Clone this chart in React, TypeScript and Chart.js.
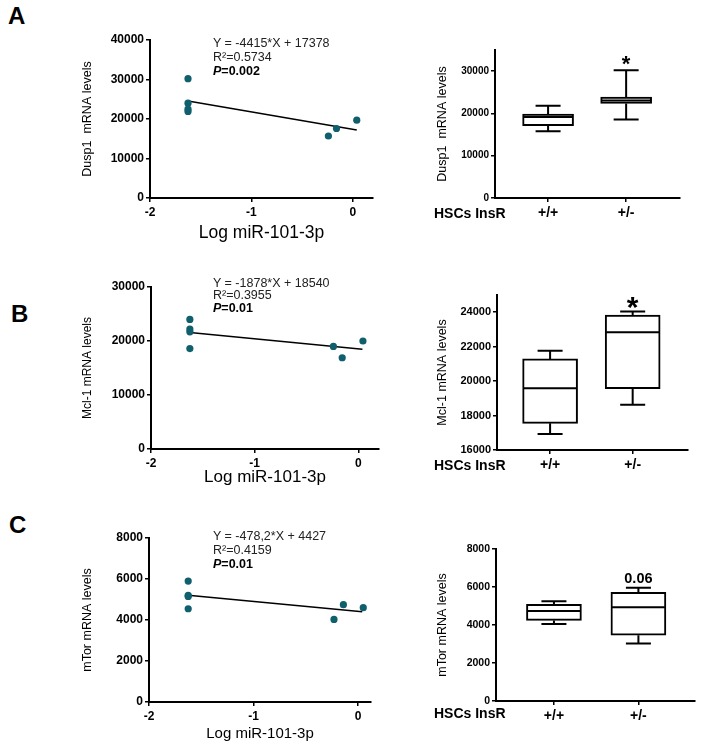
import React, { useEffect, useRef } from "react";
import { Chart, registerables } from "chart.js";
Chart.register(...registerables);

const FONT = "'Liberation Sans', Arial, Helvetica, sans-serif";
Chart.defaults.font.family = FONT;

// ---------------- DATA ----------------
// Scatter: x = Log miR-101-3p
const logMiRTicks = [-2, -1, 0];

const dusp1LogMiR = [-1.625, -1.625, -1.625, -1.625, -0.24, -0.16, 0.04];
const dusp1Levels = [30200, 24000, 22500, 21900, 15700, 17600, 19700];
const dusp1FitX = [-1.625, 0.04];
const dusp1FitY = [24550, 17200];
const dusp1ScatterTicks = [0, 10000, 20000, 30000, 40000];
const dusp1Eq = ["Y = -4415*X + 17378", "R\u00b2=0.5734", "=0.002"];

const mcl1LogMiR = [-1.625, -1.625, -1.625, -1.625, -0.24, -0.155, 0.045];
const mcl1Levels = [24000, 22200, 21700, 18600, 19000, 16900, 20000];
const mcl1FitX = [-1.625, 0.04];
const mcl1FitY = [21590, 18465];
const mcl1ScatterTicks = [0, 10000, 20000, 30000];
const mcl1Eq = ["Y = -1878*X + 18540", "R\u00b2=0.3955", "=0.01"];

const mtorLogMiR = [-1.625, -1.625, -1.625, -1.625, -0.23, -0.14, 0.05];
const mtorLevels = [5900, 5200, 5150, 4550, 4030, 4750, 4600];
const mtorFitX = [-1.625, 0.04];
const mtorFitY = [5204, 4408];
const mtorScatterTicks = [0, 2000, 4000, 6000, 8000];
const mtorEq = ["Y = -478,2*X + 4427", "R\u00b2=0.4159", "=0.01"];

// Box plots: HSCs InsR genotypes
const genotypes = ["+/+", "+/-"];
const dusp1BoxMin = [15800, 18590];
const dusp1BoxQ1 = [17080, 22360];
const dusp1BoxMed = [19140, 23070];
const dusp1BoxQ3 = [19840, 23860];
const dusp1BoxMax = [21800, 30240];
const dusp1BoxTicks = [0, 10000, 20000, 30000];

const mcl1BoxMin = [16930, 18630];
const mcl1BoxQ1 = [17550, 19560];
const mcl1BoxMed = [19580, 22840];
const mcl1BoxQ3 = [21290, 23840];
const mcl1BoxMax = [21760, 24040];
const mcl1BoxTicks = [16000, 18000, 20000, 22000, 24000];

const mtorBoxMin = [4047, 3029];
const mtorBoxQ1 = [4243, 3467];
const mtorBoxMed = [4733, 4929];
const mtorBoxQ3 = [5087, 5720];
const mtorBoxMax = [5245, 5963];
const mtorBoxTicks = [0, 2000, 4000, 6000, 8000];

const TEAL = "#0f5f6c";

// ---------------- CHART BUILDERS ----------------
const gridCfg = { drawOnChartArea: false, drawTicks: true, tickLength: 4, color: "#000", lineWidth: 1.5 };
const borderCfg = { display: true, color: "#000", width: 2 };
const setTicks = (vals: number[]) => (s: any) => { s.ticks = vals.map((v) => ({ value: v })); };

type ScatterPanel = {
  xs: number[]; ys: number[]; fitX: number[]; fitY: number[];
  yMax: number; yTicks: number[]; xMax: number; yTitle: string;
  x0: number; x1: number; y0: number; y1: number;
  yTitleX: number; xTitleY: number; xTitleSize: number; yTitleSize: number;
};

function scatterChart(p: ScatterPanel) {
  const left = 60;
  const ml = p.x0 - left;
  const top = p.y0 - 15;
  const bottom = p.xTitleY + 14;
  const mb = bottom - p.y1;
  const width = ml + (p.x1 - p.x0) + 12;
  const height = bottom - top;
  const yLH = p.yTitleSize * 1.2;
  const xLH = p.xTitleSize * 1.2;
  const config: any = {
    type: "scatter",
    data: {
      datasets: [
        {
          data: p.xs.map((x, i) => ({ x, y: p.ys[i] })),
          pointRadius: 3.6,
          pointBackgroundColor: TEAL,
          pointBorderWidth: 0,
          order: 0,
        },
        {
          data: p.fitX.map((x, i) => ({ x, y: p.fitY[i] })),
          showLine: true,
          borderColor: "#000",
          borderWidth: 1.5,
          pointRadius: 0,
          order: 1,
        },
      ],
    },
    options: {
      animation: false,
      responsive: false,
      devicePixelRatio: 1,
      layout: { padding: { top: 15, right: 12, left: 0, bottom: 0 } },
      plugins: { legend: { display: false }, tooltip: { enabled: false } },
      scales: {
        x: {
          type: "linear",
          min: -2,
          max: p.xMax,
          afterBuildTicks: setTicks(logMiRTicks),
          afterFit: (s: any) => { s.height = mb; },
          ticks: { font: { size: 12, weight: "bold" }, color: "#000", padding: 3, maxRotation: 0, autoSkip: false, callback: (v: any) => String(v) },
          grid: gridCfg,
          border: borderCfg,
          title: { display: true, text: "Log miR-101-3p", color: "#000", font: { size: p.xTitleSize }, padding: { top: 0, bottom: bottom - p.xTitleY - xLH / 2 } },
        },
        y: {
          type: "linear",
          min: 0,
          max: p.yMax,
          afterBuildTicks: setTicks(p.yTicks),
          afterFit: (s: any) => { s.width = ml; },
          ticks: { font: { size: 12, weight: "bold" }, color: "#000", padding: 2, autoSkip: false, callback: (v: any) => String(v) },
          grid: gridCfg,
          border: borderCfg,
          title: { display: true, text: p.yTitle, color: "#000", font: { size: p.yTitleSize }, padding: { top: p.yTitleX - left - yLH / 2, bottom: 0 } },
        },
      },
    },
  };
  return { left, top, width, height, config };
}

type BoxPanel = {
  mins: number[]; q1: number[]; med: number[]; q3: number[]; maxs: number[];
  yMin: number; yMax: number; yTicks: number[]; xMin: number; xMax: number; yTitle: string;
  x0: number; x1: number; y0: number; y1: number;
  yTitleX: number; tickSize: number; boxW: number; capW: number;
  note: string; noteSize: number; noteGap: number; noteIsStar: boolean;
};

function boxChart(p: BoxPanel) {
  const left = 420;
  const ml = p.x0 - left;
  const top = p.y0 - 22;
  const mb = 30;
  const width = ml + (p.x1 - p.x0) + 6;
  const height = 22 + (p.y1 - p.y0) + mb;
  const yLH = 12.5 * 1.2;
  const cats = genotypes.map((_, i) => i + 1);
  const plugin = {
    id: "whiskers",
    afterDatasetsDraw(chart: any) {
      const { ctx } = chart;
      const xs = chart.scales.x;
      const ys = chart.scales.y;
      ctx.save();
      ctx.strokeStyle = "#000";
      ctx.lineWidth = 2;
      cats.forEach((c, i) => {
        const x = xs.getPixelForValue(c);
        const h = p.boxW / 2;
        const cp = p.capW / 2;
        const yMn = ys.getPixelForValue(p.mins[i]);
        const yQ1 = ys.getPixelForValue(p.q1[i]);
        const yMd = ys.getPixelForValue(p.med[i]);
        const yQ3 = ys.getPixelForValue(p.q3[i]);
        const yMx = ys.getPixelForValue(p.maxs[i]);
        ctx.beginPath();
        ctx.moveTo(x, yMx); ctx.lineTo(x, yQ3);
        ctx.moveTo(x, yQ1); ctx.lineTo(x, yMn);
        ctx.moveTo(x - cp, yMx); ctx.lineTo(x + cp, yMx);
        ctx.moveTo(x - cp, yMn); ctx.lineTo(x + cp, yMn);
        ctx.moveTo(x - h + 1, yMd); ctx.lineTo(x + h - 1, yMd);
        ctx.stroke();
      });
      // significance note above the +/- group
      const xn = xs.getPixelForValue(cats[1]);
      const yn = ys.getPixelForValue(p.maxs[1]) - p.noteGap;
      ctx.fillStyle = "#000";
      ctx.textAlign = "center";
      ctx.font = `bold ${p.noteSize}px ${FONT}`;
      if (p.noteIsStar) {
        ctx.textBaseline = "alphabetic";
        ctx.fillText(p.note, xn, yn + 0.56 * p.noteSize);
      } else {
        ctx.textBaseline = "middle";
        ctx.fillText(p.note, xn, yn);
      }
      ctx.restore();
    },
  };
  const config: any = {
    type: "bar",
    data: {
      datasets: [
        {
          data: cats.map((c, i) => ({ x: c, y: [p.q1[i], p.q3[i]] })),
          backgroundColor: "#fff",
          borderColor: "#000",
          borderWidth: 2,
          borderSkipped: false,
          barThickness: p.boxW,
        },
      ],
    },
    options: {
      animation: false,
      responsive: false,
      devicePixelRatio: 1,
      layout: { padding: { top: 22, right: 6, left: 0, bottom: 0 } },
      plugins: { legend: { display: false }, tooltip: { enabled: false } },
      scales: {
        x: {
          type: "linear",
          min: p.xMin,
          max: p.xMax,
          offset: false,
          afterBuildTicks: setTicks(cats),
          afterFit: (s: any) => { s.height = mb; },
          ticks: { autoSkip: false, font: { size: 14, weight: "bold" }, color: "#000", padding: 3, maxRotation: 0, callback: (v: any) => genotypes[v - 1] ?? "" },
          grid: { ...gridCfg, offset: false },
          border: borderCfg,
        },
        y: {
          type: "linear",
          min: p.yMin,
          max: p.yMax,
          beginAtZero: false,
          afterBuildTicks: setTicks(p.yTicks),
          afterFit: (s: any) => { s.width = ml; },
          ticks: { autoSkip: false, font: { size: p.tickSize, weight: "bold" }, color: "#000", padding: 2, callback: (v: any) => String(v) },
          grid: gridCfg,
          border: borderCfg,
          title: { display: true, text: p.yTitle, color: "#000", font: { size: 12.5 }, padding: { top: p.yTitleX - left - yLH / 2, bottom: 0 } },
        },
      },
    },
    plugins: [plugin],
  };
  return { left, top, width, height, config };
}

// ---------------- PANELS ----------------
const scatterPanels = [
  scatterChart({ xs: dusp1LogMiR, ys: dusp1Levels, fitX: dusp1FitX, fitY: dusp1FitY, yMax: 40000, yTicks: dusp1ScatterTicks, xMax: 0.2, yTitle: "Dusp1  mRNA levels", x0: 150, x1: 373, y0: 40, y1: 198, yTitleX: 88, xTitleY: 233, xTitleSize: 17.5, yTitleSize: 12.5 }),
  scatterChart({ xs: mcl1LogMiR, ys: mcl1Levels, fitX: mcl1FitX, fitY: mcl1FitY, yMax: 30000, yTicks: mcl1ScatterTicks, xMax: 0.2, yTitle: "Mcl-1 mRNA levels", x0: 151, x1: 379, y0: 287, y1: 449, yTitleX: 88, xTitleY: 477, xTitleSize: 17, yTitleSize: 12 }),
  scatterChart({ xs: mtorLogMiR, ys: mtorLevels, fitX: mtorFitX, fitY: mtorFitY, yMax: 8000, yTicks: mtorScatterTicks, xMax: 0.124, yTitle: "mTor mRNA levels", x0: 149, x1: 371, y0: 538, y1: 702, yTitleX: 88, xTitleY: 734, xTitleSize: 15, yTitleSize: 12.5 }),
];

const boxPanels = [
  boxChart({ mins: dusp1BoxMin, q1: dusp1BoxQ1, med: dusp1BoxMed, q3: dusp1BoxQ3, maxs: dusp1BoxMax, yMin: 0, yMax: 35000, yTicks: dusp1BoxTicks, xMin: 0.32, xMax: 2.69, yTitle: "Dusp1  mRNA levels", x0: 495, x1: 680, y0: 50, y1: 198, yTitleX: 443, tickSize: 10, boxW: 51, capW: 25, note: "*", noteSize: 22, noteGap: 11, noteIsStar: true }),
  boxChart({ mins: mcl1BoxMin, q1: mcl1BoxQ1, med: mcl1BoxMed, q3: mcl1BoxQ3, maxs: mcl1BoxMax, yMin: 16000, yMax: 25000, yTicks: mcl1BoxTicks, xMin: 0.357, xMax: 2.67, yTitle: "Mcl-1 mRNA levels", x0: 497, x1: 688, y0: 295, y1: 450, yTitleX: 443, tickSize: 11, boxW: 55, capW: 25, note: "*", noteSize: 30, noteGap: 11, noteIsStar: true }),
  boxChart({ mins: mtorBoxMin, q1: mtorBoxQ1, med: mtorBoxMed, q3: mtorBoxQ3, maxs: mtorBoxMax, yMin: 0, yMax: 8000, yTicks: mtorBoxTicks, xMin: 0.314, xMax: 2.67, yTitle: "mTor mRNA levels", x0: 496, x1: 695, y0: 549, y1: 701, yTitleX: 443, tickSize: 10.5, boxW: 55, capW: 25, note: "0.06", noteSize: 14.5, noteGap: 9, noteIsStar: false }),
];

const equations = [
  { lines: dusp1Eq, left: 213, cy: [42.7, 56.7, 71] },
  { lines: mcl1Eq, left: 213, cy: [282.7, 295.5, 308.3] },
  { lines: mtorEq, left: 213, cy: [536, 550.5, 564] },
];

const letters = [
  { t: "A", left: 8, cy: 15.5 },
  { t: "B", left: 11, cy: 313.5 },
  { t: "C", left: 9, cy: 525 },
];

const hscY = [213, 465, 713];

// ---------------- COMPONENTS ----------------
function ChartCanvas({ spec }: { spec: { left: number; top: number; width: number; height: number; config: any } }) {
  const ref = useRef<HTMLCanvasElement>(null);
  useEffect(() => {
    const chart = new Chart(ref.current as HTMLCanvasElement, spec.config);
    return () => chart.destroy();
  }, []);
  return (
    <canvas
      ref={ref}
      width={Math.round(spec.width)}
      height={Math.round(spec.height)}
      style={{ position: "absolute", left: spec.left, top: Math.round(spec.top), width: Math.round(spec.width), height: Math.round(spec.height) }}
    />
  );
}

function Txt({ left, cy, size, bold, children, color }: any) {
  return (
    <div
      style={{
        position: "absolute",
        left,
        top: cy - 0.49 * size,
        fontSize: size,
        lineHeight: 1,
        fontWeight: bold ? "bold" : "normal",
        fontFamily: FONT,
        whiteSpace: "pre",
        color: color || "#000",
      }}
    >
      {children}
    </div>
  );
}

export default function App() {
  return (
    <div style={{ position: "absolute", left: 0, top: 0, width: 702, height: 746, background: "#fff", overflow: "hidden" }}>
      {scatterPanels.map((s, i) => <ChartCanvas key={"s" + i} spec={s} />)}
      {boxPanels.map((s, i) => <ChartCanvas key={"b" + i} spec={s} />)}
      {equations.map((e, i) => (
        <React.Fragment key={"e" + i}>
          <Txt left={e.left} cy={e.cy[0]} size={12.5} color="#222">{e.lines[0]}</Txt>
          <Txt left={e.left} cy={e.cy[1]} size={12.5} color="#222">{e.lines[1]}</Txt>
          <Txt left={e.left} cy={e.cy[2]} size={12.5} bold>
            <i>P</i>{e.lines[2]}
          </Txt>
        </React.Fragment>
      ))}
      {letters.map((l) => (
        <Txt key={l.t} left={l.left} cy={l.cy} size={24} bold>{l.t}</Txt>
      ))}
      {hscY.map((y, i) => (
        <Txt key={"h" + i} left={434} cy={y} size={14} bold>HSCs InsR</Txt>
      ))}
    </div>
  );
}
